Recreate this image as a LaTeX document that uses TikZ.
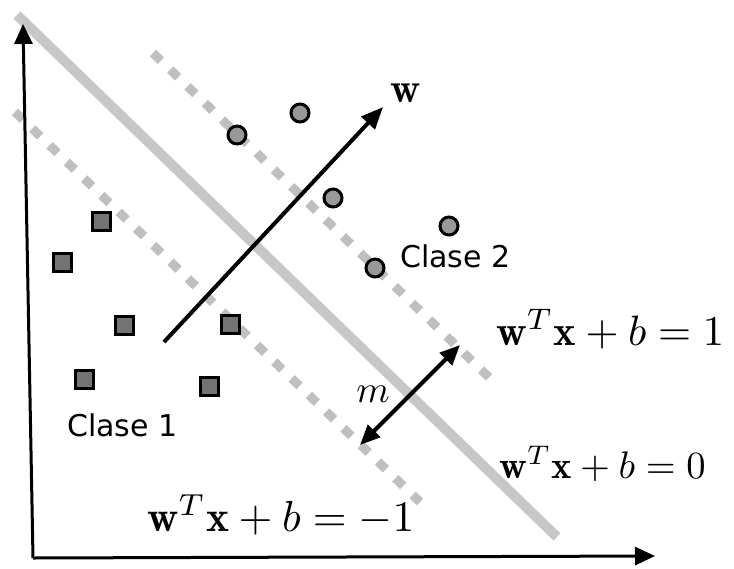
\documentclass[tikz,border=0pt]{standalone}
\usepackage{fontspec}
\newfontfamily\clasefont{DejaVu Sans}
\usetikzlibrary{arrows.meta}
\tikzset{
  axisline/.style={line width=3pt,-{Triangle[length=20pt,width=18pt]}},
  hyper/.style={line width=10pt,color=black!22},
  marginline/.style={line width=9pt,color=black!25,dash pattern=on 11pt off 13pt},
  vecline/.style={line width=4pt,-{Triangle[length=22pt,width=18pt]}},
  dvecline/.style={line width=4pt,{Triangle[length=20pt,width=17pt]}-{Triangle[length=20pt,width=17pt]}},
  posdot/.style={circle,draw=black,line width=3pt,fill=black!40,minimum size=18pt,inner sep=0pt},
  negsq/.style={rectangle,draw=black,line width=3pt,fill=black!55,minimum size=18pt,inner sep=0pt},
  clase/.style={font=\clasefont\fontsize{30}{30}\selectfont,inner sep=0pt},
  eqn/.style={inner sep=0pt}
}
\begin{document}
\begin{tikzpicture}[x=1pt,y=-1pt]
\useasboundingbox (0,0) rectangle (734,568);
% margins and hyperplane
\draw[hyper] (17,15) -- (557,537);
\draw[marginline] (153,53) -- (497,385);
\draw[marginline] (15,112) -- (420,502);
% axes
\coordinate (O) at (33,558);
\coordinate (Ytop) at (23,24);
\coordinate (Xend) at (655,556);
\draw[axisline] (O) -- (Ytop);
\draw[axisline] (O) -- (Xend);
% class 2
\node[posdot] (c1) at (237,135) {};
\node[posdot] (c2) at (300,113) {};
\node[posdot] (c3) at (333,198) {};
\node[posdot] (c4) at (449,226) {};
\node[posdot] (c5) at (375,268) {};
% class 1
\node[negsq] (s1) at (101,221) {};
\node[negsq] (s2) at (62,262) {};
\node[negsq] (s3) at (124,325) {};
\node[negsq] (s4) at (230,324) {};
\node[negsq] (s5) at (84,379) {};
\node[negsq] (s6) at (209,386) {};
% w vector
\coordinate (w0) at (164,342);
\coordinate (w1) at (383,107);
\draw[vecline] (w0) -- (w1);
\node[eqn,anchor=center] (wl) at (406,93) {\scalebox{4.2}{$\mathbf{w}$}};
% margin arrow
\coordinate (m0) at (360,445);
\coordinate (m1) at (460,345);
\draw[dvecline] (m0) -- (m1);
\node[eqn] (ml) at (373,394) {\scalebox{3.8}{$m$}};
% labels
\node[clase,anchor=base west] (cl1) at (67,436) {Clase 1};
\node[clase,anchor=base west] (cl2) at (400,267) {Clase 2};
\node[eqn,anchor=base west] (e1) at (496,345) {\scalebox{4.25}{$\mathbf{w}^T\mathbf{x}+b=1$}};
\node[eqn,anchor=base west] (e0) at (499,478) {\scalebox{3.85}{$\mathbf{w}^T\mathbf{x}+b=0$}};
\node[eqn,anchor=base west] (em) at (147,531) {\scalebox{4.35}{$\mathbf{w}^T\mathbf{x}+b=-1$}};
\end{tikzpicture}
\end{document}
